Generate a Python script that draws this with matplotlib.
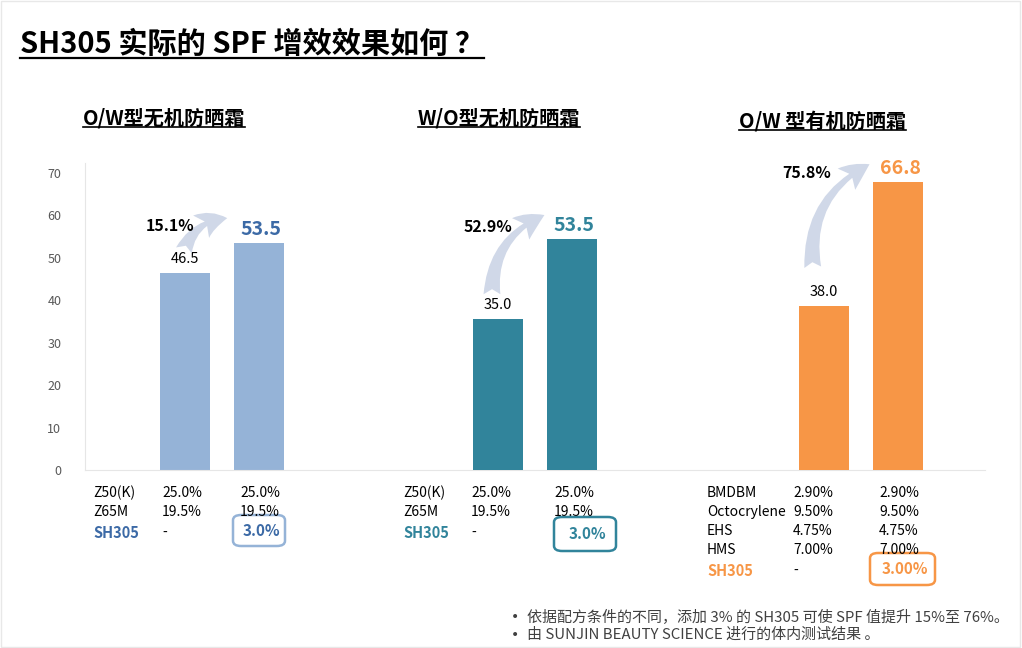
import matplotlib

matplotlib.use("Agg")
import matplotlib.pyplot as plt
from matplotlib.lines import Line2D
from matplotlib.patches import FancyArrowPatch, FancyBboxPatch, Rectangle

plt.rcParams["font.family"] = ["Noto Sans CJK SC", "DejaVu Sans"]

# ---- data ----
title = "SH305 实际的 SPF 增效效果如何 ？"
group_titles = ["O/W型无机防晒霜", "W/O型无机防晒霜", "O/W 型有机防晒霜"]
spf_base = [46.5, 35.0, 38.0]
spf_sh305 = [53.5, 53.5, 66.8]
boost_labels = ["15.1%", "52.9%", "75.8%"]
ingredients = [
    ["Z50(K)", "Z65M", "SH305"],
    ["Z50(K)", "Z65M", "SH305"],
    ["BMDBM", "Octocrylene", "EHS", "HMS", "SH305"],
]
base_pct = [
    ["25.0%", "19.5%", "-"],
    ["25.0%", "19.5%", "-"],
    ["2.90%", "9.50%", "4.75%", "7.00%", "-"],
]
sh305_pct = [
    ["25.0%", "19.5%", "3.0%"],
    ["25.0%", "19.5%", "3.0%"],
    ["2.90%", "9.50%", "4.75%", "7.00%", "3.00%"],
]
yticks = [0, 10, 20, 30, 40, 50, 60, 70]
notes = [
    "依据配方条件的不同，添加 3% 的 SH305 可使 SPF 值提升 15%至 76%。",
    "由 SUNJIN BEAUTY SCIENCE 进行的体内测试结果 。",
]

# ---- style / layout ----
bar_colors = ["#95B3D7", "#31849B", "#F79646"]
label_colors = ["#3C6AA6", "#31849B", "#F79646"]
arrow_color = "#D0D8E8"
W, H = 1022, 648
group_x = [136.5, 449.5, 775.5]   # axis units (= px from axis left)
bar_off = 37
bar_w = 50
title_px = [(83, 118), (418, 118), (739, 121)]
col_px = [(93, 162, 240), (403, 471, 554), (707, 793, 879)]
box_px = [(233, 515, 52, 31), (554, 517, 62, 34), (870, 553, 65, 32)]
arrow_px = [((183, 253), (230, 218)), ((492, 297), (547, 214)), ((813, 270), (872, 163))]
boost_px = [(194, 226), (512, 227), (831, 173)]


def fx(x):
    return x / W


def fy(y):
    return 1 - y / H


fig = plt.figure(figsize=(W / 100, H / 100), dpi=100)
fig.patch.set_facecolor("white")

ax = fig.add_axes([fx(85), fy(470), 900 / W, 307 / H])
ax.set_xlim(0, 900)
ax.set_ylim(0, 307 / 4.243)
ax2 = ax.twinx()
ax2.set_ylim(0, 307 / 4.31)
for a in (ax, ax2):
    a.patch.set_visible(False)
    for s in a.spines.values():
        s.set_visible(False)
ax2.set_yticks([])
ax.spines["left"].set_visible(True)
ax.spines["bottom"].set_visible(True)
ax.spines["left"].set_color("#E6E6E6")
ax.spines["bottom"].set_color("#E6E6E6")
ax.set_xticks([])
ax.set_yticks(yticks)
ax.tick_params(axis="y", length=0, pad=17, labelsize=9, labelcolor="#595959")

for i in range(3):
    a = ax if i == 0 else ax2
    x1 = group_x[i] - bar_off
    x2 = group_x[i] + bar_off
    a.bar(x1, spf_base[i], width=bar_w, color=bar_colors[i])
    a.bar(x2, spf_sh305[i], width=bar_w, color=bar_colors[i])
    a.annotate(f"{spf_base[i]:.1f}", (x1, spf_base[i]), xytext=(0, 5),
               textcoords="offset points", ha="center", va="bottom", fontsize=10.5)
    a.annotate(f"{spf_sh305[i]:.1f}", (x2, spf_sh305[i]), xytext=(2, 3),
               textcoords="offset points", ha="center", va="bottom", fontsize=14,
               fontweight="bold", color=label_colors[i])
    (sx, sy), (ex, ey) = arrow_px[i]
    arr = FancyArrowPatch((fx(sx), fy(sy)), (fx(ex), fy(ey)), transform=fig.transFigure,
                          connectionstyle="arc3,rad=-0.35",
                          arrowstyle="fancy,head_length=0.9,head_width=0.9,tail_width=0.55",
                          mutation_scale=22, color=arrow_color, lw=0, zorder=1)
    fig.patches.append(arr)
    fig.text(fx(boost_px[i][0]), fy(boost_px[i][1]), boost_labels[i], ha="right",
             va="center", fontsize=11.5, fontweight="bold")

    # formulation table
    cx_lab, cx_b, cx_s = col_px[i]
    n = len(ingredients[i])
    for r in range(n):
        y = 493 + r * 19 + (2 if r == n - 1 else 0)
        last = r == n - 1
        fig.text(fx(cx_lab), fy(y), ingredients[i][r], ha="left", va="center",
                 fontsize=10.5 if last else 10,
                 fontweight="bold" if last else "normal",
                 color=label_colors[i] if last else "black")
        fig.text(fx(cx_b), fy(y), base_pct[i][r], ha="left", va="center", fontsize=10)
        if last:
            bx, by, bw, bh = box_px[i]
            fig.patches.append(FancyBboxPatch((fx(bx), fy(by + bh)), bw / W, bh / H,
                                              boxstyle="round,pad=0,rounding_size=0.008",
                                              transform=fig.transFigure, fill=False,
                                              ec=bar_colors[i], lw=1.8))
            fig.text(fx(bx + bw / 2 + 2), fy(by + bh / 2), sh305_pct[i][r], ha="center",
                     va="center", fontsize=11, fontweight="bold", color=label_colors[i])
        else:
            fig.text(fx(cx_s), fy(y), sh305_pct[i][r], ha="left", va="center", fontsize=10)

# titles
underlined = []
t = fig.text(fx(20), fy(44), title, ha="left", va="center", fontsize=21, fontweight="bold")
underlined.append((t, 1.6))
for i in range(3):
    t = fig.text(fx(title_px[i][0]), fy(title_px[i][1]), group_titles[i], ha="left",
                 va="center", fontsize=14.5, fontweight="bold")
    underlined.append((t, 1.2))

# notes
for k, line in enumerate(notes):
    y = 617 + k * 18
    fig.text(fx(511), fy(y), "•", ha="left", va="center", fontsize=10,
             color="#404040", family="DejaVu Sans")
    fig.text(fx(527), fy(y), line, ha="left", va="center", fontsize=10.8, color="#404040")

# slide frame
fig.patches.append(Rectangle((0.001, 0.001), 0.997, 0.997, transform=fig.transFigure,
                             fill=False, ec="#E8E8E8", lw=1))

fig.canvas.draw()
renderer = fig.canvas.get_renderer()
for t, lw in underlined:
    bb = t.get_window_extent(renderer).transformed(fig.transFigure.inverted())
    fig.lines.append(Line2D([bb.x0, bb.x1], [bb.y0 + 0.002, bb.y0 + 0.002],
                            transform=fig.transFigure, color="black", lw=lw))

fig.savefig("out.png", dpi=100, facecolor="white")
